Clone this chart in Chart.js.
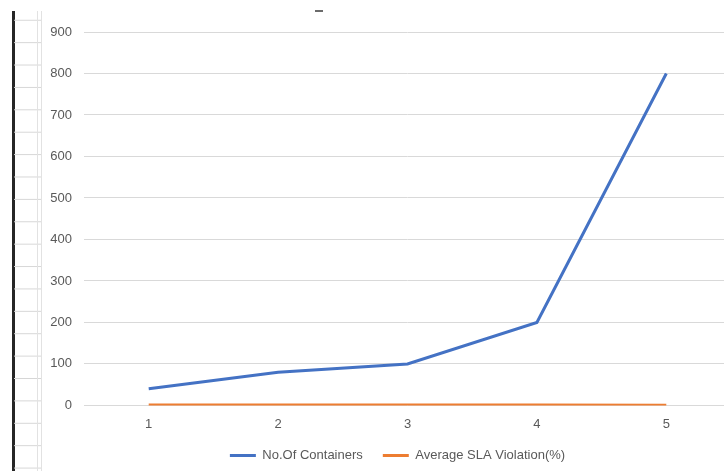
<!DOCTYPE html>
<html>
<head>
<meta charset="utf-8">
<script src="https://cdn.jsdelivr.net/npm/chart.js@4.4.1/dist/chart.umd.min.js"></script>
<style>
  html, body { margin: 0; padding: 0; background: #fff; overflow: hidden; width: 724px; height: 471px; }
  .sheet-edge { position: absolute; left: 12px; top: 11px; width: 2.5px; bottom: 0; background: #262626; }
  .sheet-rows { position: absolute; left: 14px; top: 11px; width: 27px; bottom: 0;
    background: repeating-linear-gradient(to bottom, transparent 0, transparent 8.6px, #d6d6d6 8.6px, #d6d6d6 9.6px, transparent 9.6px, transparent 22.4px);
    background-size: 100% 22.4px; }
  .sheet-col1 { position: absolute; left: 37px; top: 11px; width: 1px; bottom: 0; background: #e2e2e2; }
  .sheet-col2 { position: absolute; left: 41px; top: 11px; width: 1px; bottom: 0; background: #e2e2e2; }
  .title-mark { position: absolute; left: 315px; top: 10px; width: 8px; height: 2px; background: #6b6b6b; }
  #wrap { position: absolute; left: 44px; top: 0; width: 696px; height: 471px; }
</style>
</head>
<body>
<div class="sheet-edge"></div>
<div class="sheet-rows"></div>
<div class="sheet-col1"></div>
<div class="sheet-col2"></div>
<div class="title-mark"></div>
<div id="wrap"><canvas id="chart"></canvas></div>
<script>
const categories = ['1', '2', '3', '4', '5'];
const containers = [40, 80, 100, 200, 800];
const slaViolation = [1.2, 1.1, 1.0, 0.9, 0.3];
const yTicks = [0, 100, 200, 300, 400, 500, 600, 700, 800, 900];

const FONT = { family: '"Liberation Sans", Arial, sans-serif', size: 13 };
const TEXT = '#595959';

// Centre the legend under the plot area and pull it up closer to the axis.
const legendPlacement = {
  id: 'legendPlacement',
  afterLayout(chart) {
    const lg = chart.legend;
    if (!lg) return;
    const dx = 10, dy = -14;
    lg.left += dx;
    lg.right += dx;
    lg.top += dy;
    lg.bottom += dy;
  }
};

new Chart(document.getElementById('chart'), {
  type: 'line',
  data: {
    labels: categories,
    datasets: [
      {
        label: 'No.Of Containers',
        data: containers,
        borderColor: '#4472C4',
        backgroundColor: '#4472C4',
        borderWidth: 3,
        pointRadius: 0,
        tension: 0
      },
      {
        label: 'Average SLA Violation(%)',
        data: slaViolation,
        borderColor: '#ED7D31',
        backgroundColor: '#ED7D31',
        borderWidth: 3,
        pointRadius: 0,
        tension: 0
      }
    ]
  },
  plugins: [legendPlacement],
  options: {
    responsive: true,
    maintainAspectRatio: false,
    animation: false,
    layout: { padding: { top: 32, right: 9, left: 0, bottom: -15 } },
    plugins: {
      title: { display: false },
      tooltip: { enabled: false },
      legend: {
        position: 'bottom',
        labels: {
          color: TEXT,
          font: FONT,
          boxWidth: 26,
          boxHeight: 3,
          padding: 20,
          generateLabels: (chart) => {
            const items = Chart.defaults.plugins.legend.labels.generateLabels(chart);
            items.forEach(it => { it.lineWidth = 0; it.strokeStyle = 'rgba(0,0,0,0)'; });
            return items;
          }
        }
      }
    },
    scales: {
      x: {
        offset: true,
        grid: { display: false, drawTicks: false },
        border: { display: false },
        ticks: { color: TEXT, font: FONT, padding: 11 }
      },
      y: {
        min: 0,
        max: 900,
        afterBuildTicks: (scale) => { scale.ticks = yTicks.map(v => ({ value: v })); },
        afterFit: (scale) => { scale.width = 40; },
        grid: { color: '#d9d9d9', lineWidth: 1, drawTicks: false },
        border: { display: false },
        ticks: { color: TEXT, font: FONT, padding: 12 }
      }
    }
  }
});
</script>
</body>
</html>
